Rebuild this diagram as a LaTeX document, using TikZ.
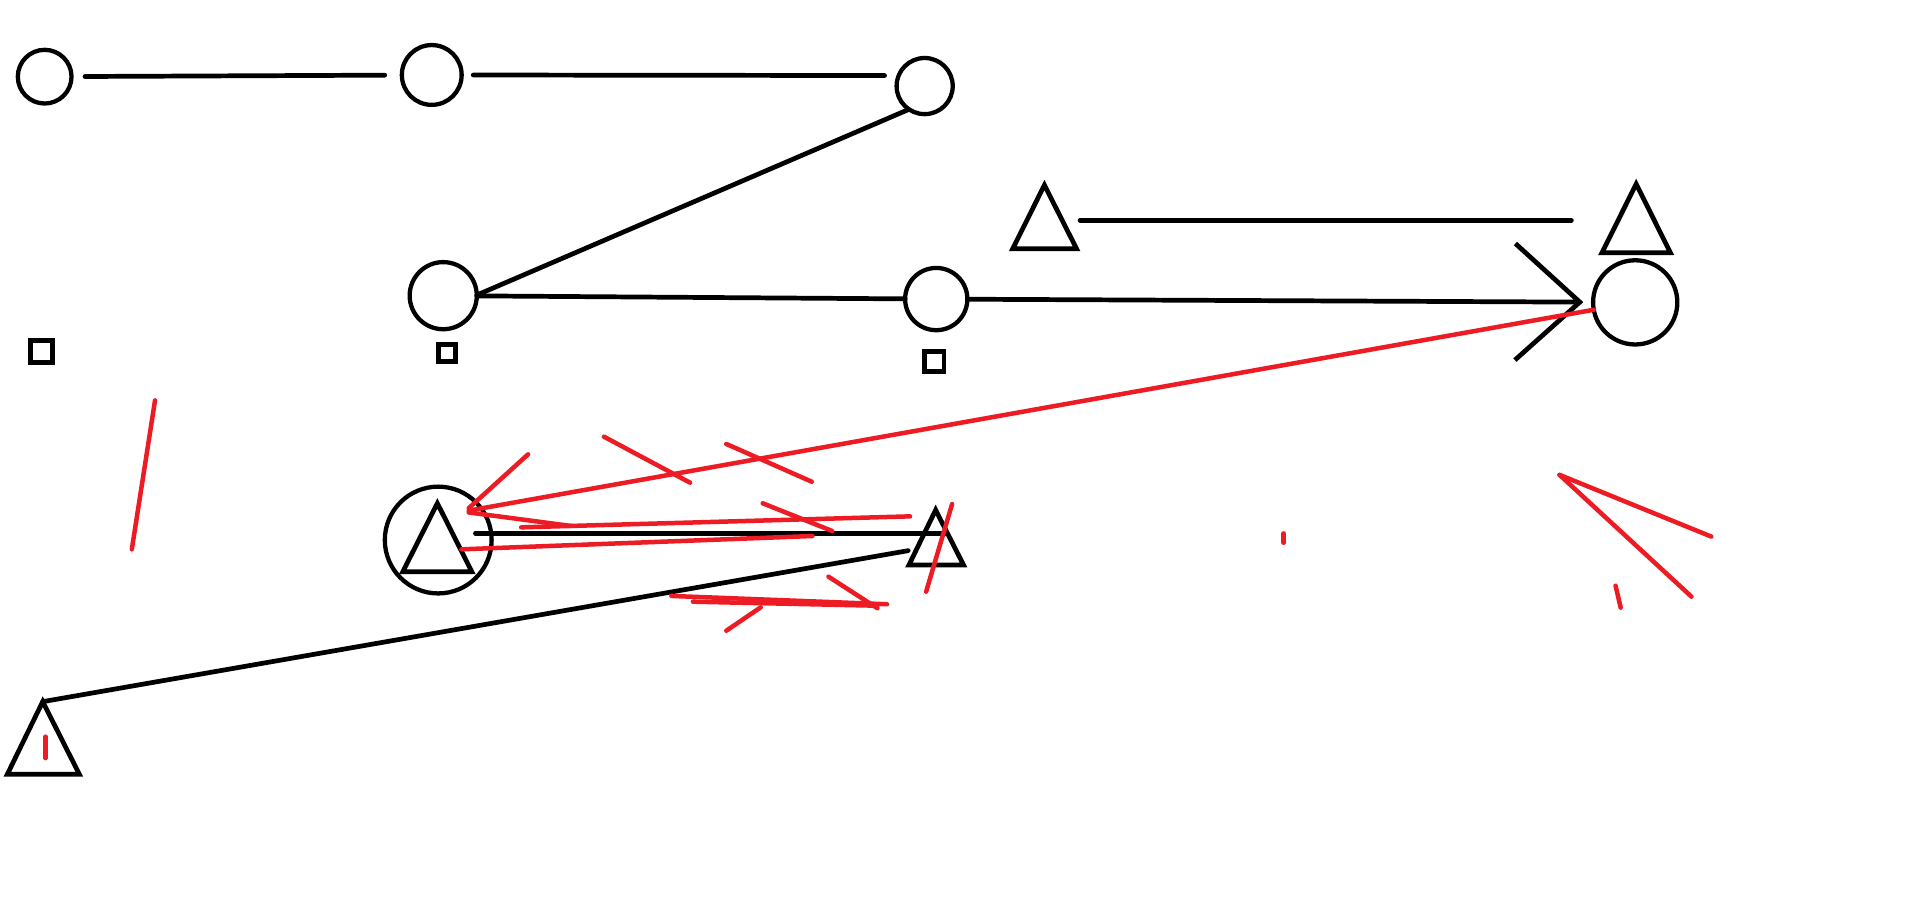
\documentclass[tikz,border=0pt]{standalone}
\usepackage{xcolor}
\usetikzlibrary{arrows.meta}
\definecolor{paintred}{RGB}{237,28,36}

\begin{document}
\begin{tikzpicture}[x=0.02cm, y=-0.02cm, line width=2.2pt, line cap=round]
    \fill [white] (0,0) rectangle (1568,752);
    \useasboundingbox (0,0) rectangle (1568,752);
    \begin{scope}[every node/.style={inner sep=0, minimum size=0, outer sep=0}, ring/.style={circle, draw, line width=2pt, minimum size=#1}, box/.style={rectangle, draw, minimum size=#1}, scribble/.style={paintred, line width=2.1pt}]
      \node [ring=0.88cm] (c1) at (36.6,62.8) {};
      \node [ring=0.98cm] (c2) at (353.7,61.4) {};
      \node [ring=0.92cm] (c3) at (757.5,70.5) {};
      \node [ring=1.1cm] (c4) at (363.1,242.2) {};
      \node [ring=1.02cm] (c5) at (767,245) {};
      \node [ring=1.38cm] (c6) at (1339.6,247.7) {};
      \node [ring=1.75cm] (c7) at (359,442.4) {};
      \node [box=0.36cm] (s1) at (33.9,287.8) {};
      \node [box=0.28cm] (s2) at (366.2,289.1) {};
      \node [box=0.32cm] (s3) at (765.4,296.1) {};
      \node (ta1) at (855.6,151.6) {};
      \node (tb1) at (829.7,203.7) {};
      \node (tc1) at (881.9,203.7) {};
      \node (ta2) at (1340.4,150.7) {};
      \node (tb2) at (1312.4,207) {};
      \node (tc2) at (1368.4,207) {};
      \node (ta3) at (766.5,417.8) {};
      \node (tb3) at (744.6,462.9) {};
      \node (tc3) at (789.4,462.9) {};
      \node (ta4) at (35,574.8) {};
      \node (tb4) at (6,634.3) {};
      \node (tc4) at (65,634.3) {};
      \node (ta5) at (358.3,412.3) {};
      \node (tb5) at (330,468.3) {};
      \node (tc5) at (386.5,468.3) {};
      \foreach \t in {1,...,5} {\draw [line cap=butt] (ta\t.center) -- (tb\t.center) -- (tc\t.center) -- cycle;}
      \coordinate (t1r) at (884.8,180.5);
      \coordinate (t2l) at (1287.3,180.5);
      \coordinate (t3r) at (775.3,436.9);
      \coordinate (t3l) at (744,451.1);
      \coordinate (r1) at (384,418.3);
      \draw [shorten <=0.22cm, shorten >=0.28cm] (c1) -- (c2);
      \draw [shorten <=0.19cm, shorten >=0.23cm] (c2) -- (c3.158);
      \draw (c3.236) -- (c4.1);
      \draw (c4) -- (c5);
      \draw [-{Straight Barb[length=1.06cm, width=1.91cm]}, shorten >=0.16cm] (c5) -- (c6);
      \draw (t1r) -- (t2l);
      \draw [shorten <=0.61cm] (c7.center |- t3r) -- (t3r);
      \draw (t3l) -- (ta4);
      \draw [scribble] (c6) -- (r1);
      \foreach \xa/\ya/\xb/\yb in {127/328/108/450, 37.4/603.5/37.4/621, 384/416.3/432.6/372.2, 384/419.8/468/430.9, 427/432/745.5/423, 378/450/665.6/439.1, 494.7/357.7/565.3/395.4, 595/363.7/665/394.6, 624.8/412.3/681.8/435, 780/412.9/758.7/484.7, 550/488.2/726.7/495, 567.7/492.9/718.8/496.2, 678.7/472.4/718.8/498.3, 595/516.7/623.2/497.5, 1051.6/437/1051.6/444.6, 1277.6/389/1402/439.6, 1277.6/389/1385.7/488.8, 1323.5/479.8/1327.7/497.8}
        {\draw [scribble] (\xa,\ya) -- (\xb,\yb);}
    \end{scope}
  \end{tikzpicture}
\end{document}
